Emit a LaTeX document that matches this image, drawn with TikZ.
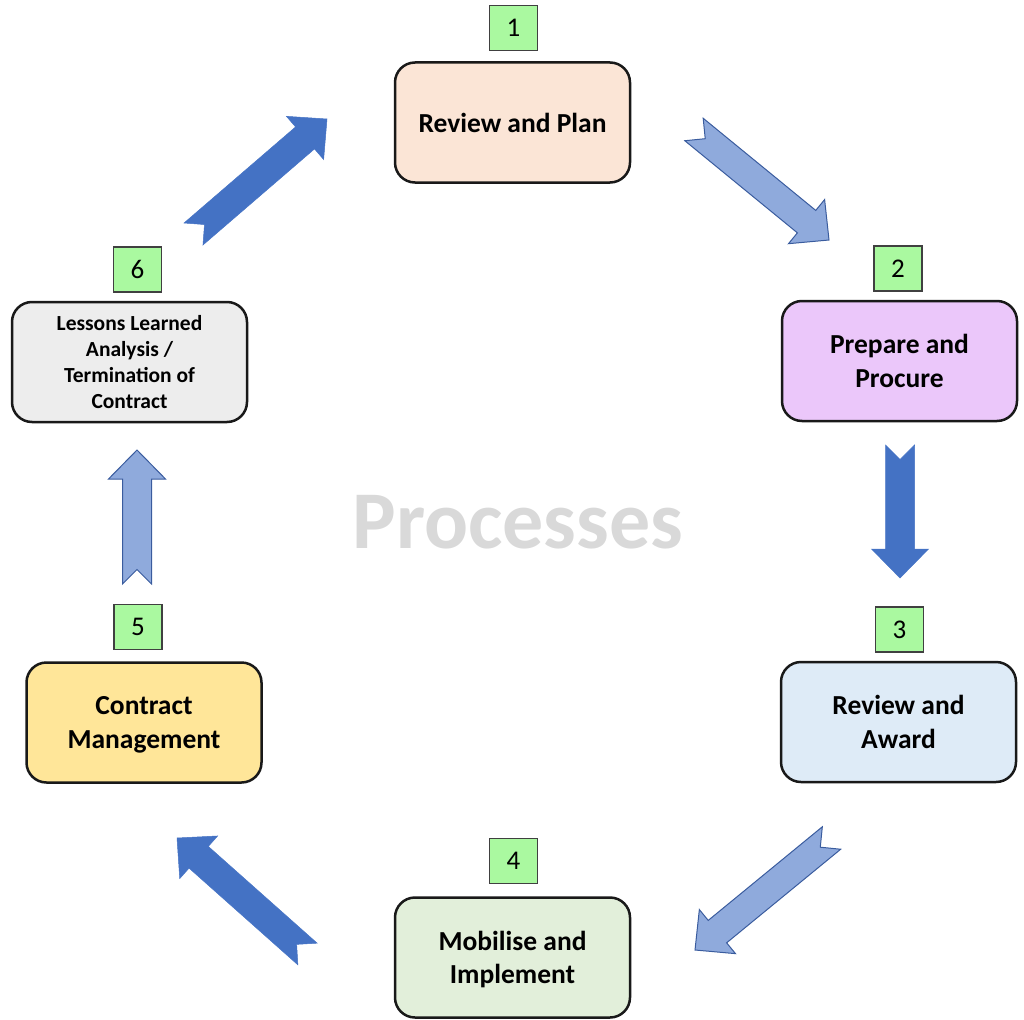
\documentclass[tikz,border=0pt]{standalone}
\usepackage{fontspec}
\setmainfont{Carlito}
\usepackage{tikz}
\usetikzlibrary{shapes,arrows.meta,positioning,calc}
\definecolor{planfill}{HTML}{FBE5D6}
\definecolor{procfill}{HTML}{EBC7FA}
\definecolor{awardfill}{HTML}{DEEBF7}
\definecolor{implfill}{HTML}{E2EFDA}
\definecolor{mgmtfill}{HTML}{FFE699}
\definecolor{lessfill}{HTML}{EDEDED}
\definecolor{taggreen}{HTML}{AAF9A0}
\definecolor{lightblue}{HTML}{8FAADC}
\definecolor{darkblue}{HTML}{4472C4}
\definecolor{edgeblue}{HTML}{3A5C9E}
\definecolor{watermark}{HTML}{D9D9D9}
\tikzstyle{stage} = [draw=black!90, line width=2.5pt, rounded corners=20pt, minimum width=235pt, minimum height=120pt, align=center, inner sep=0pt, text depth=0pt, font=\bfseries\fontsize{27.5}{33.5}\selectfont]
\tikzstyle{tag} = [draw=black!75, line width=1.3pt, fill=taggreen, minimum width=48pt, minimum height=45pt, inner sep=0pt, font=\fontsize{27}{30}\selectfont]
\tikzstyle{light} = [fill=lightblue, draw=edgeblue, line width=1pt, line join=miter]
\tikzstyle{dark} = [fill=darkblue, draw=darkblue, line width=0.5pt, line join=miter]
\tikzset{>=latex}
% notched block arrow from tail #2 to tip #3
\newcommand{\blockarrow}[3][light]{%
  \coordinate (bb) at ($(#3)!29pt!(#2)$);
  \path[#1] ($(#2)!14.5pt!90:(#3)$) -- ($(#2)!14.5pt!(#3)$) -- ($(#2)!14.5pt!-90:(#3)$)
    -- ($(bb)!14.5pt!-90:(#3)$) -- ($(bb)!28.5pt!-90:(#3)$) -- (#3)
    -- ($(bb)!28.5pt!90:(#3)$) -- ($(bb)!14.5pt!90:(#3)$) -- cycle;
}

\begin{document}
\begin{tikzpicture}[x=1pt,y=-1pt]
    \useasboundingbox (0,0) rectangle (1024,1019);
    \node [stage,fill=planfill] (plan) at (512.5,122.5) {Review and Plan};
    \node [stage,fill=procfill] (procure) at (899.5,361) {Prepare and\\Procure};
    \node [stage,fill=awardfill] (award) at (898.5,722) {Review and\\Award};
    \node [stage,fill=implfill] (implement) at (512.5,957.5) {Mobilise and\\Implement};
    \node [stage,fill=mgmtfill] (manage) at (144,722.5) {Contract\\Management};
    \node [stage,fill=lessfill,font=\bfseries\fontsize{21.5}{25.7}\selectfont] (lessons) at (129.5,362) {Lessons Learned\\Analysis /\\Termination of\\Contract};
    \node [tag,above=10pt of plan,xshift=1pt] (t1) {1};
    \node [tag,above=8pt of procure,xshift=-1.5pt] (t2) {2};
    \node [tag,above=8pt of award,xshift=1pt] (t3) {3};
    \node [tag,above=12pt of implement,xshift=1pt] (t4) {4};
    \node [tag,above=11pt of manage,xshift=-6pt] (t5) {5};
    \node [tag,above=8pt of lessons,xshift=8pt] (t6) {6};
    \node [text=watermark,font=\bfseries\fontsize{82}{90}\selectfont] (title) at (518,522) {Processes};
    \coordinate (a12t) at (694,129.5);
    \coordinate (a12h) at (829,240);
    \coordinate (a23t) at (900,445);
    \coordinate (a23h) at (900,578);
    \coordinate (a34t) at (831.5,838);
    \coordinate (a34h) at (695,950);
    \coordinate (a45t) at (307.5,954);
    \coordinate (a45h) at (177,838);
    \coordinate (a56t) at (137,584);
    \coordinate (a56h) at (137,450);
    \coordinate (a61t) at (193.5,234);
    \coordinate (a61h) at (327,119);
    \blockarrow[light]{a12t}{a12h}
    \blockarrow[dark]{a23t}{a23h}
    \blockarrow[light]{a34t}{a34h}
    \blockarrow[dark]{a45t}{a45h}
    \blockarrow[light]{a56t}{a56h}
    \blockarrow[dark]{a61t}{a61h}
\end{tikzpicture}
\end{document}
